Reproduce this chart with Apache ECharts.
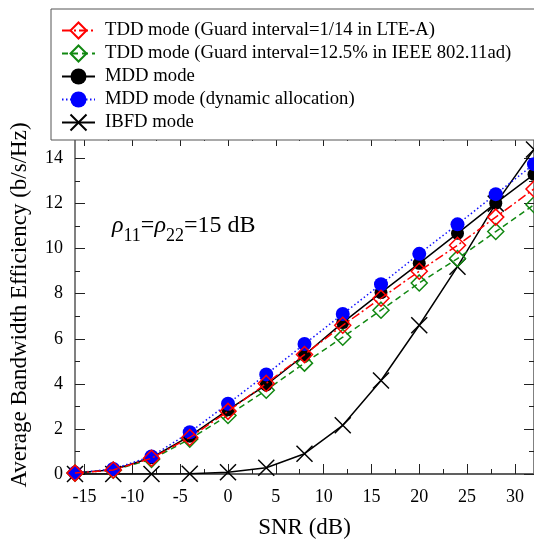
<!DOCTYPE html>
<html>
<head>
<meta charset="utf-8">
<script src="https://cdn.jsdelivr.net/npm/echarts@6/dist/echarts.min.js"></script>
<style>
  html, body { margin: 0; padding: 0; background: #fff; }
  #chart { width: 534px; height: 544px; }
</style>
</head>
<body>
<div id="chart"></div>
<script>
// SNR sample points (dB)
const snr = [-16, -12, -8, -4, 0, 4, 8, 12, 16, 20, 24, 28, 32];

// Average bandwidth efficiency (b/s/Hz) per duplexing scheme
const tddLteA   = [0.04, 0.18, 0.70, 1.62, 2.78, 4.02, 5.30, 6.60, 7.80, 9.00, 10.15, 11.40, 12.65];
const tddWigig  = [0.04, 0.17, 0.65, 1.55, 2.60, 3.72, 4.92, 6.07, 7.27, 8.48, 9.56, 10.76, 11.95];
const mdd       = [0.05, 0.19, 0.72, 1.68, 2.85, 3.95, 5.28, 6.72, 8.05, 9.35, 10.68, 12.02, 13.30];
const mddDyn    = [0.05, 0.22, 0.78, 1.85, 3.12, 4.42, 5.77, 7.10, 8.42, 9.77, 11.08, 12.42, 13.75];
const ibfd      = [0.00, 0.00, 0.00, 0.01, 0.08, 0.28, 0.90, 2.16, 4.15, 6.60, 9.20, 12.00, 14.40];

// Tick positions
const xMajorTicks = [-15, -10, -5, 0, 5, 10, 15, 20, 25, 30];
const xMinorTicks = [-12.5, -7.5, -2.5, 2.5, 7.5, 12.5, 17.5, 22.5, 27.5];
const yMajorTicks = [0, 2, 4, 6, 8, 10, 12, 14];
const yMinorTicks = [1, 3, 5, 7, 9, 11, 13];

const names = [
  'TDD mode (Guard interval=1/14 in LTE-A)',
  'TDD mode (Guard interval=12.5% in IEEE 802.11ad)',
  'MDD mode',
  'MDD mode (dynamic allocation)',
  'IBFD mode'
];

const FONT = '"Liberation Serif", "DejaVu Serif", serif';
const pair = (ys) => snr.map((x, i) => [x, ys[i]]);
const crossPath = 'path://M0,0L10,10M10,0L0,10';

const chart = echarts.init(document.getElementById('chart'), null, { renderer: 'canvas' });

function xAxisDef(position, ticks, len, showLabel, showLine) {
  return {
    type: 'value', min: -16, max: 32, position: position,
    axisLine: { show: showLine, onZero: false, lineStyle: { color: '#606060', width: 2 } },
    axisTick: { show: true, inside: true, length: len, customValues: ticks,
      lineStyle: { color: '#222', width: 1 } },
    axisLabel: { show: showLabel, customValues: ticks, margin: 14,
      fontFamily: FONT, fontSize: 18, color: '#000' },
    splitLine: { show: false },
    name: showLabel ? 'SNR (dB)' : '',
    nameLocation: 'middle', nameGap: 42,
    nameTextStyle: { fontFamily: FONT, fontSize: 23, color: '#000' }
  };
}

function yAxisDef(position, ticks, len, showLabel, showLine) {
  return {
    type: 'value', min: 0, max: 15, position: position,
    axisLine: { show: showLine, onZero: false, lineStyle: { color: '#808080', width: 2 } },
    axisTick: { show: true, inside: true, length: len, customValues: ticks,
      lineStyle: { color: '#222', width: 1 } },
    axisLabel: { show: showLabel, customValues: ticks, margin: 12,
      fontFamily: FONT, fontSize: 18, color: '#000' },
    splitLine: { show: false },
    name: showLabel ? 'Average Bandwidth Efficiency (b/s/Hz)' : '',
    nameLocation: 'middle', nameGap: 44, nameRotate: 90,
    nameTextStyle: { fontFamily: FONT, fontSize: 23, color: '#000' }
  };
}

const option = {
  backgroundColor: '#fff',
  animation: false,
  grid: { left: 74, top: 136, width: 462, height: 346, containLabel: false },
  xAxis: [
    xAxisDef('bottom', xMajorTicks, 10, true, true),
    xAxisDef('bottom', xMinorTicks, 5, false, false),
    xAxisDef('top', xMajorTicks, 10, false, true),
    xAxisDef('top', xMinorTicks, 5, false, false)
  ],
  yAxis: [
    yAxisDef('left', yMajorTicks, 10, true, true),
    yAxisDef('left', yMinorTicks, 5, false, false),
    yAxisDef('right', yMajorTicks, 10, false, true),
    yAxisDef('right', yMinorTicks, 5, false, false)
  ],
  legend: {
    left: 51, top: 9, orient: 'vertical',
    data: names,
    backgroundColor: '#fff',
    borderColor: '#555', borderWidth: 1,
    padding: [11.5, 40, 7.5, 10],
    itemWidth: 33, itemHeight: 20, itemGap: 3,
    textStyle: { fontFamily: FONT, fontSize: 18.7, lineHeight: 20, color: '#000',
      padding: [0, 0, 0, 5] }
  },
  graphic: [{
    type: 'text', left: 112, top: 214, z: 10,
    style: {
      text: '{r|ρ}{s|11}{n|=}{r|ρ}{s|22}{n|=15 dB}',
      rich: {
        r: { fontFamily: FONT, fontStyle: 'italic', fontSize: 24, fill: '#000' },
        s: { fontFamily: FONT, fontSize: 18, fill: '#000', padding: [21, 0, 0, 0] },
        n: { fontFamily: FONT, fontSize: 24, fill: '#000' }
      }
    }
  }],
  series: [
    {
      name: names[4], type: 'line', data: pair(ibfd), z: 2,
      symbol: crossPath, symbolSize: 16,
      lineStyle: { color: '#000', width: 1.5, type: 'solid' },
      itemStyle: { color: 'rgba(0,0,0,0)', borderColor: '#000', borderWidth: 1.5 }
    },
    {
      name: names[1], type: 'line', data: pair(tddWigig), z: 3,
      symbol: 'diamond', symbolSize: 16,
      lineStyle: { color: '#118811', width: 1.5, type: [6, 4] },
      itemStyle: { color: 'rgba(0,0,0,0)', borderColor: '#118811', borderWidth: 1.5 }
    },
    {
      name: names[2], type: 'line', data: pair(mdd), z: 4,
      symbol: 'circle', symbolSize: 13,
      lineStyle: { color: '#000', width: 1.5, type: 'solid' },
      itemStyle: { color: '#000', borderColor: '#000', borderWidth: 0 }
    },
    {
      name: names[3], type: 'line', data: pair(mddDyn), z: 5,
      symbol: 'circle', symbolSize: 14,
      lineStyle: { color: '#1010ff', width: 1.5, type: [1.5, 2.5] },
      itemStyle: { color: '#0000ff', borderColor: '#0000ff', borderWidth: 0 }
    },
    {
      name: names[0], type: 'line', data: pair(tddLteA), z: 6,
      symbol: 'diamond', symbolSize: 16,
      lineStyle: { color: '#ff0000', width: 1.5, type: [9, 3, 2, 3] },
      itemStyle: { color: 'rgba(0,0,0,0)', borderColor: '#ff0000', borderWidth: 1.5 }
    }
  ]
};

chart.setOption(option);
</script>
</body>
</html>
